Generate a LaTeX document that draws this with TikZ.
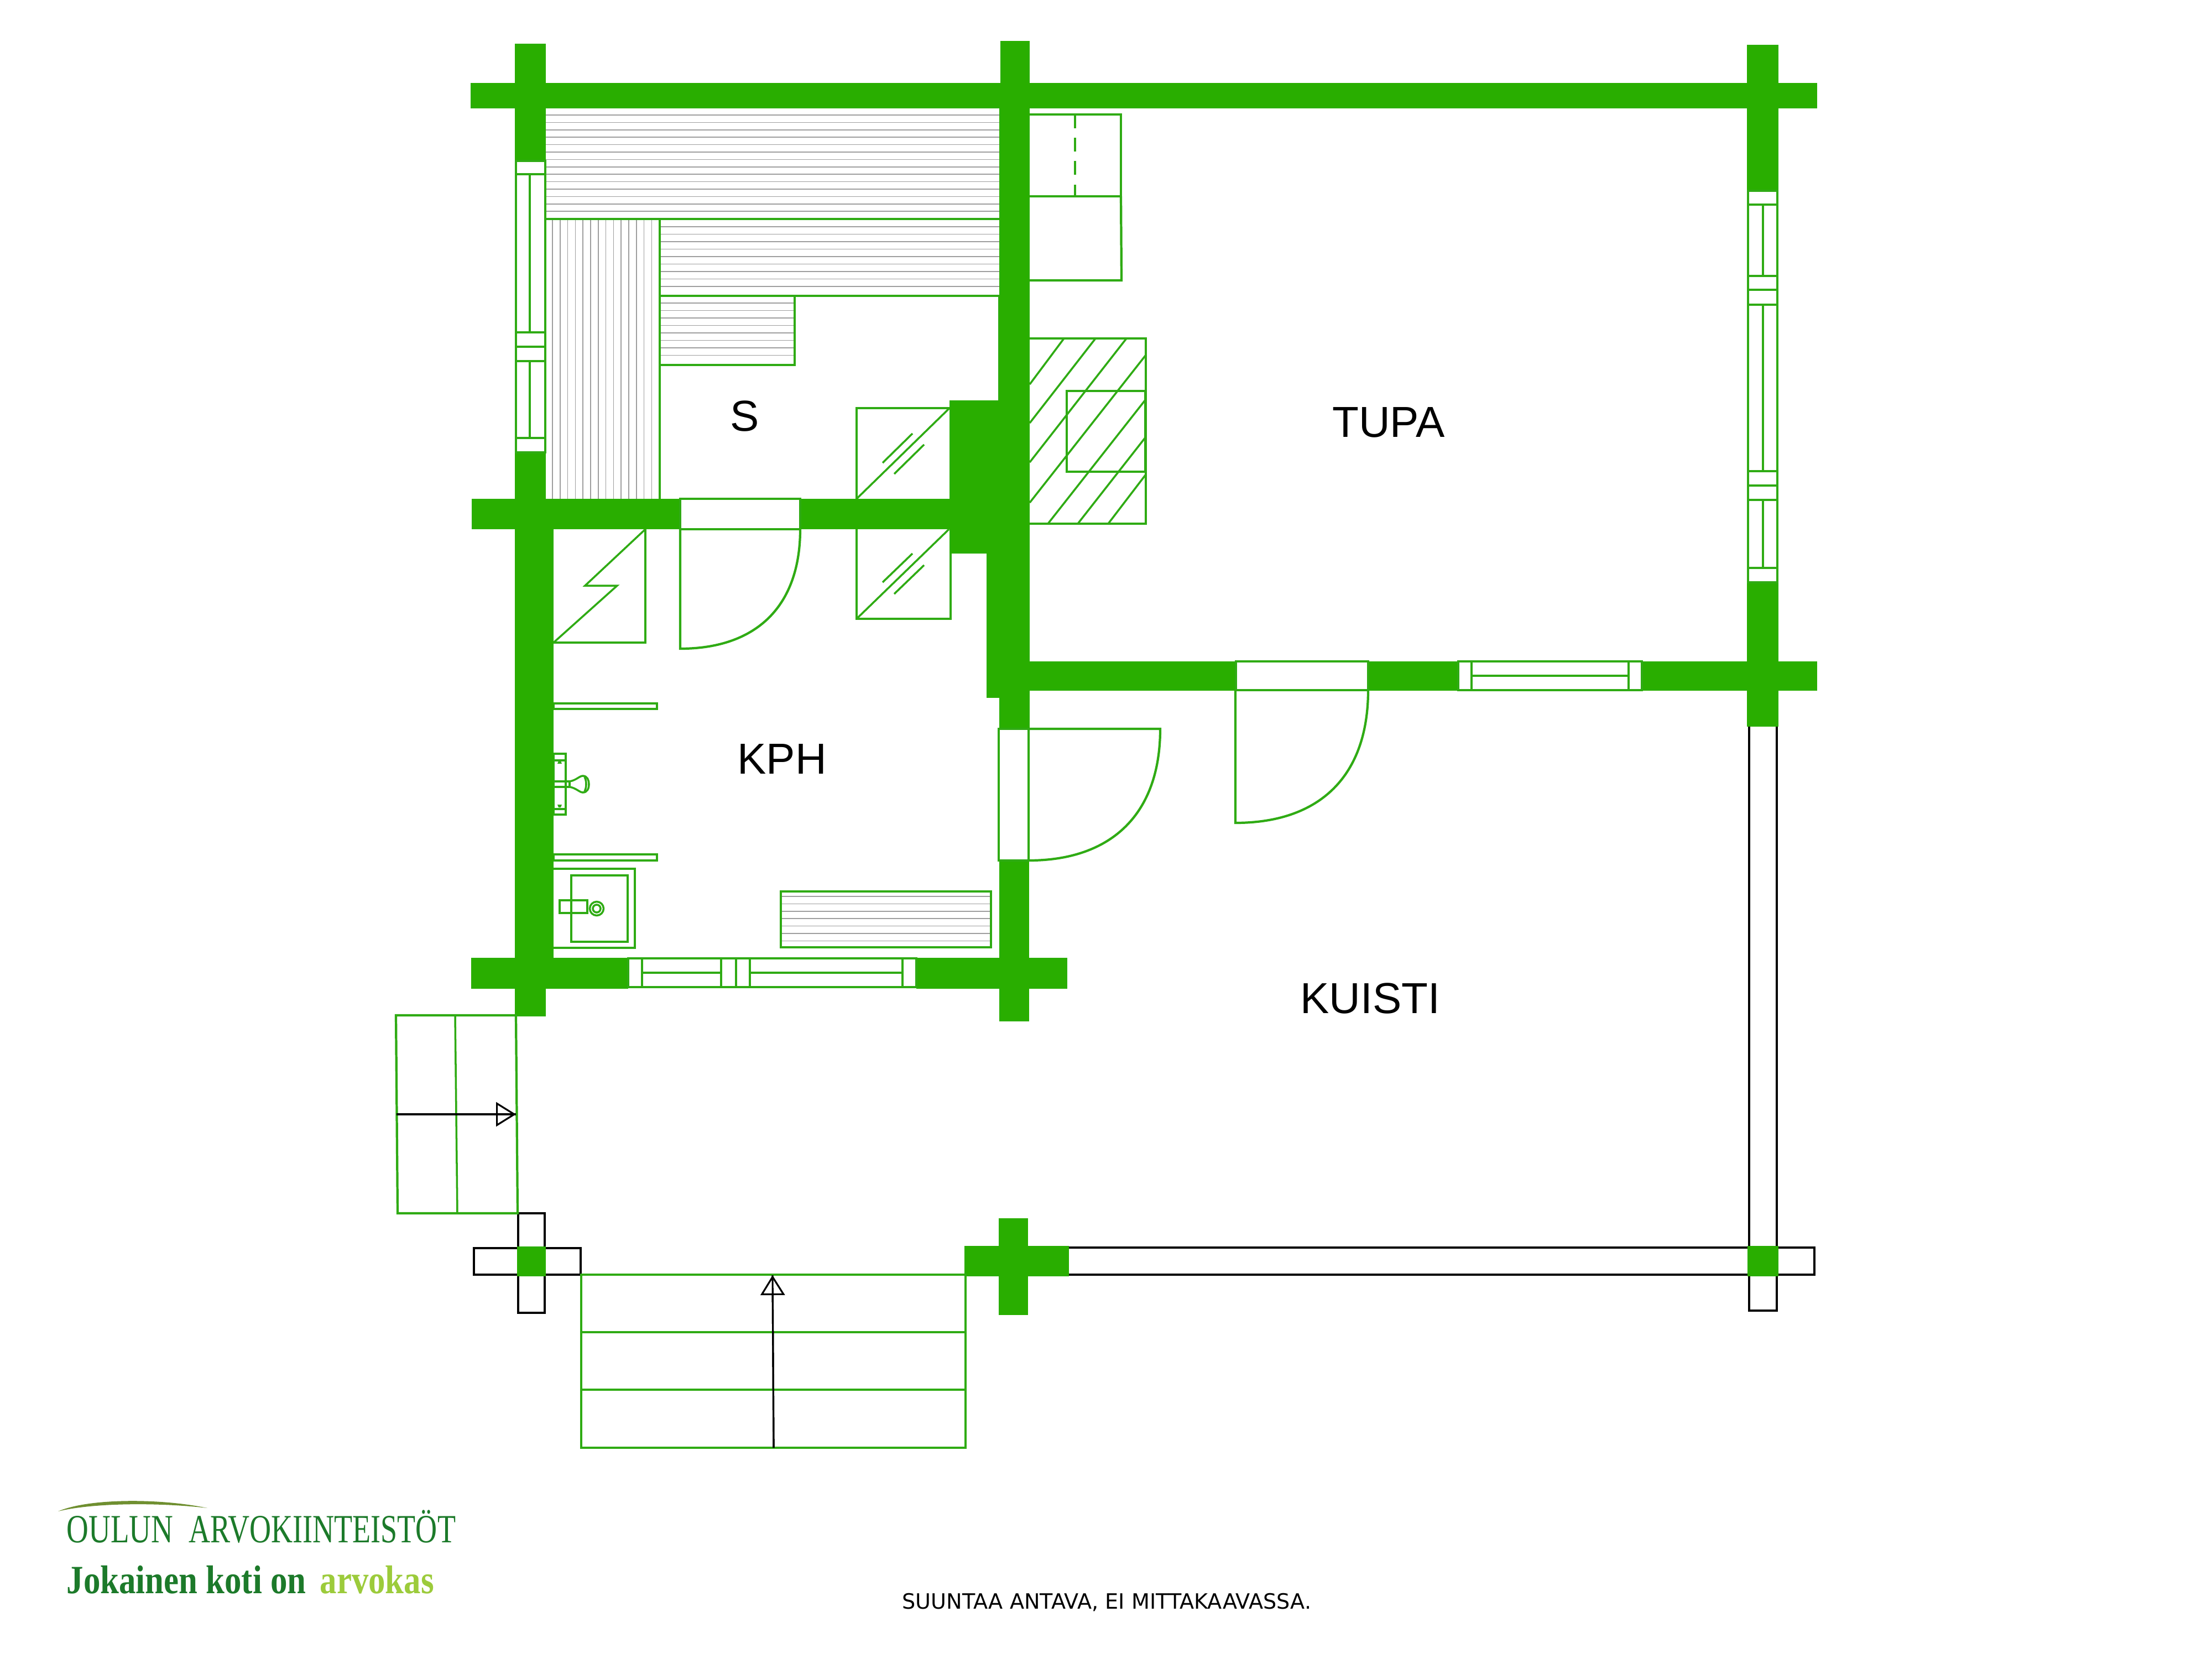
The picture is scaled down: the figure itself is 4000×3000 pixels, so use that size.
\documentclass[tikz,border=0pt]{standalone}
\usepackage{fontspec}
\setmainfont{Liberation Sans}
\newfontfamily\notefont{DejaVu Sans}
\newfontfamily\logofont{Liberation Serif}
\usetikzlibrary{arrows.meta}
\definecolor{wallgreen}{HTML}{29AE00}
\definecolor{linegreen}{HTML}{2FAB14}
\definecolor{slatgray}{HTML}{9E9E9E}
\definecolor{logodark}{HTML}{1C7A2A}
\definecolor{logolight}{HTML}{9CCB3B}
\definecolor{logoarc}{HTML}{6F8F30}
\tikzset{
    wall/.style={fill=wallgreen},
    item/.style={draw=linegreen,line width=1.2pt},
    thin item/.style={draw=linegreen,line width=1pt},
    glaze/.style={draw=linegreen,fill=white,line width=1.1pt},
    open wall/.style={draw=black,line width=1.1pt},
    slat/.style={draw=slatgray,line width=0.5pt},
    room/.style={font=\fontsize{22.3}{26}\selectfont,inner sep=0pt},
    walkarrow/.style={draw=black,line width=0.9pt}
}
\begin{document}
\begin{tikzpicture}[x=0.01cm,y=-0.01cm]
    \useasboundingbox (0,0) rectangle (4000,3000);

    \foreach \y in {208,221.4,...,384} \draw[slat] (987,\y) -- (1807,\y);
    \foreach \y in {410,423.5,...,523} \draw[slat] (1193,\y) -- (1807,\y);
    \foreach \y in {548,561.5,...,650} \draw[slat] (1193,\y) -- (1437,\y);
    \foreach \x in {999,1012.8,...,1180} \draw[slat] (\x,396) -- (\x,902);
    \foreach \y in {1621,1634.4,...,1702} \draw[slat] (1412,\y) -- (1792,\y);

    \draw[item] (987,396) -- (1807,396);
    \draw[item] (1193,396) -- (1193,902);
    \draw[item] (1193,535) -- (1807,535);
    \draw[item] (1437,535) -- (1437,660) -- (1193,660);
    \draw[thin item] (1807,535) -- (1807,724);

    \draw[thin item] (1549,902) -- (1549,738) -- (1717,738);
    \draw[thin item] (1549,902) -- (1717,738);
    \draw[thin item] (1596,837) -- (1650,784);
    \draw[thin item] (1617,857) -- (1671,804);

    \draw[thin item] (1549,957) -- (1549,1119) -- (1719,1119) -- (1719,1001);
    \draw[thin item] (1549,1119) -- (1716,957);
    \draw[thin item] (1596,1053) -- (1650,1001);
    \draw[thin item] (1617,1074) -- (1671,1022);

    \draw[thin item] (1167,957) -- (1167,1162) -- (1001,1162);
    \draw[thin item] (1001,1162) -- (1116,1059) -- (1058,1059) -- (1167,957);

    \draw[item] (1230,957) -- (1230,1173) .. controls (1369,1173) and (1447,1095) .. (1447,957);
    \draw[item] (1230,957) -- (1447,957);
    \draw[item] (1860,1318) -- (2098,1318) .. controls (2098,1470) and (2012,1556) .. (1860,1556) -- cycle;
    \draw[item] (2234,1248) -- (2234,1488) .. controls (2388,1488) and (2474,1402) .. (2474,1248);

    \draw[thin item] (1001,1272) rectangle (1188,1282);
    \draw[thin item] (1001,1545) rectangle (1188,1556);
    \draw[thin item] (1001,1363) rectangle (1023,1473);
    \draw[thin item] (1001,1375) -- (1023,1375);
    \draw[thin item] (1001,1463) -- (1023,1463);
    \fill[linegreen] (1008,1381) -- (1010,1376) -- (1014,1376) -- (1016,1381) -- cycle;
    \fill[linegreen] (1008,1455) -- (1010,1460) -- (1014,1460) -- (1016,1455) -- cycle;
    \draw[thin item] (1001,1413) -- (1030,1413) -- (1030,1423) -- (1001,1423);
    \draw[thin item] (1030,1413) .. controls (1042,1411) and (1048,1403) .. (1054,1403)
        .. controls (1062,1403) and (1065,1411) .. (1065,1418)
        .. controls (1065,1426) and (1062,1433) .. (1054,1433)
        .. controls (1048,1433) and (1042,1425) .. (1030,1423);
    \draw[thin item] (1057,1405) .. controls (1061,1412) and (1061,1424) .. (1057,1431);

    \draw[thin item] (1001,1571) -- (1148,1571) -- (1148,1714) -- (1001,1714);
    \draw[thin item] (1033,1583) rectangle (1135,1703);
    \draw[thin item] (1012,1628) rectangle (1062,1651);
    \draw[thin item] (1079,1643) circle[radius=12.5];
    \draw[thin item] (1079,1643) circle[radius=7];

    \draw[item] (1412,1612) rectangle (1792,1713);

    \draw[item] (1862,207) -- (2027,207) -- (2027,355) -- (1862,355);
    \draw[item] (2027,355) -- (2028,507) -- (1862,507);
    \draw[thin item,dash pattern=on 7pt off 5pt] (1944,207) -- (1944,355);

    \draw[item] (1862,612) -- (2072,612) -- (2072,947) -- (1862,947);
    \draw[item] (1929,707) rectangle (2071,853);
    \draw[thin item] (1924,612) -- (1862,695);
    \draw[thin item] (1981,612) -- (1862,765);
    \draw[thin item] (2037,612) -- (1862,836);
    \draw[thin item] (2072,642) -- (1862,909);
    \draw[thin item] (2072,722) -- (1895,947);
    \draw[thin item] (2072,790) -- (1949,947);
    \draw[thin item] (2072,858) -- (2004,947);

    \draw[open wall] (3163,1312) rectangle (3213,2370);
    \draw[open wall] (1931,2256) rectangle (3281,2305);
    \draw[open wall] (857,2257) rectangle (1050,2305);
    \draw[open wall] (937,2194) rectangle (985,2374);

    \fill[wall] (851,150) rectangle (3286,196);
    \fill[wall] (931,79) rectangle (987,291);
    \fill[wall] (1809,74) rectangle (1862,196);
    \fill[wall] (1807,196) rectangle (1862,1318);
    \fill[wall] (3159,81) rectangle (3216,345);
    \fill[wall] (3159,1053) rectangle (3216,1314);
    \fill[wall] (931,818) rectangle (987,957);
    \fill[wall] (853,902) rectangle (1230,957);
    \fill[wall] (1447,902) rectangle (1807,957);
    \fill[wall] (1717,724) rectangle (1807,1001);
    \fill[wall] (1784,1001) rectangle (1862,1262);
    \fill[wall] (1807,1556) rectangle (1861,1847);
    \fill[wall] (931,902) rectangle (1001,1788);
    \fill[wall] (931,1788) rectangle (987,1838);
    \fill[wall] (852,1732) rectangle (1136,1788);
    \fill[wall] (1657,1732) rectangle (1930,1788);
    \fill[wall] (1862,1196) rectangle (2235,1249);
    \fill[wall] (2474,1196) rectangle (2637,1249);
    \fill[wall] (2969,1196) rectangle (3286,1249);
    \fill[wall] (1744,2253) rectangle (1933,2308);
    \fill[wall] (1806,2203) rectangle (1859,2378);
    \fill[wall] (935,2254) rectangle (987,2308);
    \fill[wall] (3160,2253) rectangle (3216,2308);

    \draw[glaze] (933,291) rectangle (986,818);
    \draw[thin item] (933,315) -- (986,315);
    \draw[thin item] (933,601) -- (986,601);
    \draw[thin item] (933,627) -- (986,627);
    \draw[thin item] (933,653) -- (986,653);
    \draw[thin item] (933,792) -- (986,792);
    \draw[thin item] (958,315) -- (958,601);
    \draw[thin item] (958,653) -- (958,792);

    \draw[glaze] (3161,345) rectangle (3214,1053);
    \draw[thin item] (3161,370) -- (3214,370);
    \draw[thin item] (3161,499) -- (3214,499);
    \draw[thin item] (3161,524) -- (3214,524);
    \draw[thin item] (3161,551) -- (3214,551);
    \draw[thin item] (3161,852) -- (3214,852);
    \draw[thin item] (3161,878) -- (3214,878);
    \draw[thin item] (3161,904) -- (3214,904);
    \draw[thin item] (3161,1027) -- (3214,1027);
    \draw[thin item] (3188,370) -- (3188,499);
    \draw[thin item] (3188,551) -- (3188,852);
    \draw[thin item] (3188,904) -- (3188,1027);

    \draw[glaze] (2637,1196) rectangle (2969,1248);
    \draw[thin item] (2661,1196) -- (2661,1248);
    \draw[thin item] (2945,1196) -- (2945,1248);
    \draw[thin item] (2661,1222) -- (2945,1222);

    \draw[glaze] (1136,1733) rectangle (1657,1785);
    \draw[thin item] (1161,1733) -- (1161,1785);
    \draw[thin item] (1304,1733) -- (1304,1785);
    \draw[thin item] (1331,1733) -- (1331,1785);
    \draw[thin item] (1356,1733) -- (1356,1785);
    \draw[thin item] (1632,1733) -- (1632,1785);
    \draw[thin item] (1161,1759) -- (1304,1759);
    \draw[thin item] (1356,1759) -- (1632,1759);

    \draw[glaze] (1230,902) rectangle (1447,957);
    \draw[glaze] (2235,1196) rectangle (2474,1248);
    \draw[glaze] (1806,1318) rectangle (1860,1556);

    \draw[item] (716,1836) -- (933,1836) -- (936,2194) -- (719,2194) -- cycle;
    \draw[thin item] (823,1836) -- (827,2194);
    \draw[item] (1051,2305) rectangle (1746,2618);
    \draw[item] (1051,2409) -- (1746,2409);
    \draw[item] (1051,2513) -- (1746,2513);

    \coordinate (sidefoot) at (717,2015);
    \coordinate (sidetip) at (933,2015);
    \coordinate (frontfoot) at (1399,2618);
    \coordinate (fronttip) at (1397,2306);
    \draw[walkarrow,-{Triangle[open,length=36*0.01cm,width=44*0.01cm]}] (sidefoot) -- (sidetip);
    \draw[walkarrow] (sidefoot) -- (sidetip);
    \draw[walkarrow,-{Triangle[open,length=36*0.01cm,width=44*0.01cm]}] (frontfoot) -- (fronttip);
    \draw[walkarrow] (frontfoot) -- (fronttip);

    \node[room] (s) at (1347,752) {S};
    \node[room] (kph) at (1414,1373) {KPH};
    \node[room] (tupa) at (2511,764) {TUPA};
    \node[room] (kuisti) at (2478,1805) {KUISTI};

    \node[anchor=base west,inner sep=0pt,font=\notefont\fontsize{10.85}{13}\selectfont] (note) at (1631,2909) {SUUNTAA ANTAVA, EI MITTAKAAVASSA.};

    \fill[logoarc] (105,2733) .. controls (160,2709) and (290,2709) .. (375,2727) .. controls (290,2717) and (170,2717) .. (105,2733) -- cycle;
    \node[anchor=base west,inner sep=0pt,xscale=0.76,text=logodark,font=\logofont\fontsize{20.6}{24}\selectfont] (oulun) at (120,2789) {OULUN};
    \node[anchor=base west,inner sep=0pt,xscale=0.747,text=logodark,font=\logofont\fontsize{20.6}{24}\selectfont] (arvo) at (341,2789) {ARVOKIINTEISTÖT};
    \node[anchor=base west,inner sep=0pt,xscale=0.84,text=logodark,font=\logofont\bfseries\fontsize{20.6}{24}\selectfont] (motto) at (120,2881) {Jokainen koti on};
    \node[anchor=base west,inner sep=0pt,xscale=0.84,text=logolight,font=\logofont\bfseries\fontsize{20.6}{24}\selectfont] (arvokas) at (578,2881) {arvokas};
\end{tikzpicture}
\end{document}
